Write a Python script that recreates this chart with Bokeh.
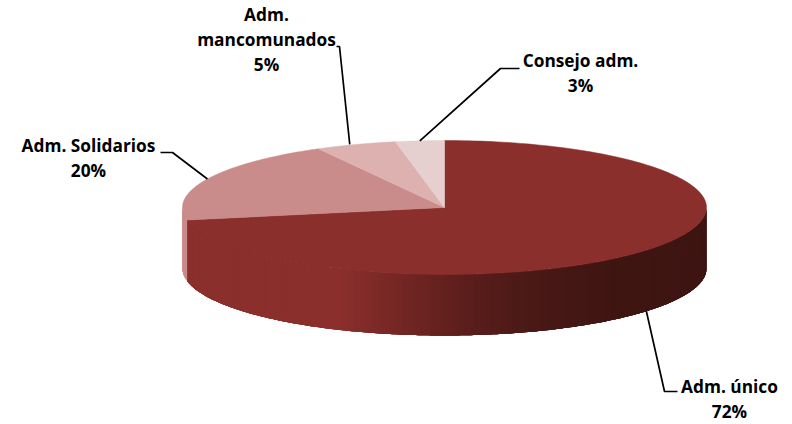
import numpy as np
from bokeh.embed import file_html
from bokeh.resources import INLINE
from bokeh.plotting import figure
from bokeh.core.properties import value

# Data
categories = ["Adm. único", "Adm. Solidarios", "Adm. mancomunados", "Consejo adm."]
shares = [72, 20, 5, 3]
percent_labels = ["72%", "20%", "5%", "3%"]
label_lines = [["Adm. único", "72%"], ["Adm. Solidarios", "20%"],
               ["Adm.", "mancomunados", "5%"], ["Consejo adm.", "3%"]]

# Style / layout
top_colors = ["#8B2F2D", "#C98C8B", "#DDB1B0", "#E6CFCF"]
side_colors = ["#8B2F2D", "#C98C8B", "#DDB1B0", "#E6CFCF"]
CX, CY, RX, RY, DEPTH = 444, 207, 262, 67, 61
label_centres = [(729, 386), (88, 145), (266, 14), (580, 60)]
LINE_STEP = 25
elbows = [[(664, 391), (677, 391)], [(172, 152), (160, 152)],
          [(339, 46), (336, 46)], [(500, 68), (519, 68)]]
anchor_shift = [(0, 0), (0, 0), (-6, 0), (0, 0)]

W, H = 792, 424
p = figure(width=W, height=H, x_range=(0, W), y_range=(H, 0),
           output_backend="svg", toolbar_location=None, min_border=0,
           outline_line_color=None, background_fill_color="white")
p.axis.visible = False
p.grid.visible = False


def ell(t):
    return CX + RX * np.sin(t), CY - RY * np.cos(t)


frac = np.cumsum([0] + shares) / sum(shares) * 2 * np.pi
starts, ends = frac[:-1], frac[1:]

# side wall: strips across the visible (front) half of the ellipse
shade_stops_x = [186, 340, 400, 470, 540, 610, 706]
shade_stops_r = [0x8B, 0x8B, 0x74, 0x5A, 0x48, 0x40, 0x3E]
shade_stops_g = [0x2F, 0x2F, 0x27, 0x1E, 0x19, 0x16, 0x15]
shade_stops_b = [0x2D, 0x2D, 0x24, 0x1B, 0x16, 0x13, 0x12]


def shade(x):
    r = np.interp(x, shade_stops_x, shade_stops_r)
    g = np.interp(x, shade_stops_x, shade_stops_g)
    b = np.interp(x, shade_stops_x, shade_stops_b)
    return "#%02x%02x%02x" % (int(r), int(g), int(b))


xs, ys, cols = [], [], []
for i, (a, b) in enumerate(zip(starts, ends)):
    lo, hi = max(a, np.pi / 2), min(b, 3 * np.pi / 2)
    if hi <= lo:
        continue
    edges = np.linspace(lo, hi, int((hi - lo) * 80) + 2)
    for t0, t1 in zip(edges[:-1], edges[1:]):
        # each strip runs on under the next ones, which hides the seams
        tt = np.linspace(t0, min(t1 + 0.05, hi), 6)
        ex, ey = ell(tt)
        xs.append(np.concatenate([ex, ex[::-1]]))
        ys.append(np.concatenate([ey, ey[::-1] + DEPTH]))
        cols.append(shade(ell((t0 + t1) / 2)[0]) if i == 0 else side_colors[i])
p.patches(xs, ys, fill_color=cols, line_color=None)

# top face
xs, ys = [], []
for a, b in zip(starts, ends):
    ex, ey = ell(np.linspace(a, b, 200))
    xs.append(np.concatenate([[CX], ex]))
    ys.append(np.concatenate([[CY], ey]))
p.patches(xs, ys, fill_color=top_colors, line_color=top_colors, line_width=0.5)

# leader lines from each slice's mid angle
for i, (a, b) in enumerate(zip(starts, ends)):
    mid = (a + b) / 2
    ax, ay = ell(mid)
    if np.cos(mid) < 0:
        ay += DEPTH
    ax += anchor_shift[i][0]
    ay += anchor_shift[i][1]
    px = [ax] + [e[0] for e in elbows[i]]
    py = [ay] + [e[1] for e in elbows[i]]
    p.line(px, py, line_color="black", line_width=1.7)

# labels
for lines, (lx, ly) in zip(label_lines, label_centres):
    for j, txt in enumerate(lines):
        p.text([lx], [ly + j * LINE_STEP], text=[txt], text_font=value("Open Sans"),
               text_font_style="bold", text_font_size="17.3px", text_color="black",
               text_align="center", text_baseline="middle")

open("out.html", "w").write(file_html(p, INLINE))
